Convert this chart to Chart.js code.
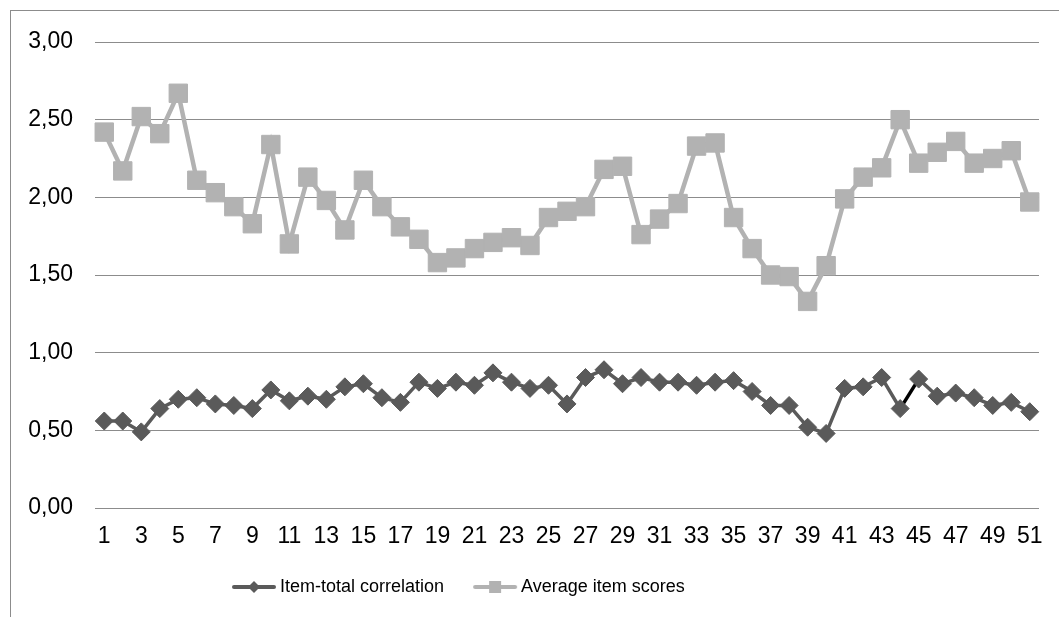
<!DOCTYPE html>
<html>
<head>
<meta charset="utf-8">
<script src="https://cdn.jsdelivr.net/npm/chart.js@4/dist/chart.umd.min.js"></script>
<style>
  html, body { margin: 0; padding: 0; background: #fff; overflow: hidden; }
  #wrap { position: relative; width: 1059px; height: 617px; }
  #frame { position: absolute; left: 10px; top: 10px; width: 1200px; height: 800px; border: 1px solid #8c8c8c; }
  canvas { position: absolute; left: 0; top: 0; }
</style>
</head>
<body>
<div id="wrap">
  <div id="frame"></div>
  <canvas id="chart" width="1059" height="617"></canvas>
</div>
<script>
// item numbers on the x axis
const items = ['1','2','3','4','5','6','7','8','9','10','11','12','13','14','15','16','17','18','19','20',
  '21','22','23','24','25','26','27','28','29','30','31','32','33','34','35','36','37','38','39','40',
  '41','42','43','44','45','46','47','48','49','50','51'];

// values
const itemTotalCorrelation = [0.56, 0.56, 0.49, 0.64, 0.70, 0.71, 0.67, 0.66, 0.64, 0.76,
  0.69, 0.72, 0.70, 0.78, 0.80, 0.71, 0.68, 0.81, 0.77, 0.81,
  0.79, 0.87, 0.81, 0.77, 0.79, 0.67, 0.84, 0.89, 0.80, 0.84,
  0.81, 0.81, 0.79, 0.81, 0.82, 0.75, 0.66, 0.66, 0.52, 0.48,
  0.77, 0.78, 0.84, 0.64, 0.83, 0.72, 0.74, 0.71, 0.66, 0.68, 0.62];

const averageItemScores = [2.42, 2.17, 2.52, 2.41, 2.67, 2.11, 2.03, 1.94, 1.83, 2.34,
  1.70, 2.13, 1.98, 1.79, 2.11, 1.94, 1.81, 1.73, 1.58, 1.61,
  1.67, 1.71, 1.74, 1.69, 1.87, 1.91, 1.94, 2.18, 2.20, 1.76,
  1.86, 1.96, 2.33, 2.35, 1.87, 1.67, 1.50, 1.49, 1.33, 1.56,
  1.99, 2.13, 2.19, 2.50, 2.22, 2.29, 2.36, 2.22, 2.25, 2.30, 1.97];

const yTicks = [0, 0.5, 1, 1.5, 2, 2.5, 3];

const DARK = '#5a5a5a';
const LIGHT = '#b2b2b2';
const GRID = '#8c8c8c';
const FAMILY = '"Liberation Sans", Arial, sans-serif';
const TICK_FONT = { family: FAMILY, size: 23 };
const LEGEND_FONT = { family: FAMILY, size: 18 };

// little line + marker picture for the legend
function legendIcon(color, shape, size) {
  const c = document.createElement('canvas');
  c.width = 46; c.height = 18;
  const g = c.getContext('2d');
  g.strokeStyle = color;
  g.lineWidth = 4;
  g.lineCap = 'round';
  g.beginPath();
  g.moveTo(3, 9); g.lineTo(43, 9);
  g.stroke();
  g.fillStyle = color;
  g.beginPath();
  if (shape === 'diamond') {
    g.moveTo(23, 9 - size); g.lineTo(23 + size, 9); g.lineTo(23, 9 + size); g.lineTo(23 - size, 9);
  } else {
    g.rect(23 - size, 9 - size, size * 2, size * 2);
  }
  g.closePath();
  g.fill();
  return c;
}

// move legend to where the original has it
const legendShift = {
  id: 'legendShift',
  afterLayout(chart) {
    const lg = chart.legend;
    const w = lg.right - lg.left;
    lg.left = 203;
    lg.right = 203 + w;
  }
};

new Chart(document.getElementById('chart'), {
  type: 'line',
  data: {
    labels: items,
    datasets: [
      {
        label: 'Item-total correlation',
        data: itemTotalCorrelation,
        borderColor: DARK,
        backgroundColor: DARK,
        borderWidth: 3.5,
        pointStyle: 'rectRot',
        pointRadius: 9,
        pointBorderWidth: 1,
        pointBorderColor: DARK,
        pointBackgroundColor: DARK,
        tension: 0,
        segment: {
          borderColor: ctx => ctx.p0DataIndex === 43 ? '#000' : undefined
        }
      },
      {
        label: 'Average item scores',
        data: averageItemScores,
        borderColor: LIGHT,
        backgroundColor: LIGHT,
        borderWidth: 4.5,
        pointStyle: 'rect',
        pointRadius: 13,
        pointBorderWidth: 1,
        pointBorderColor: LIGHT,
        pointBackgroundColor: LIGHT,
        tension: 0
      }
    ]
  },
  options: {
    responsive: false,
    animation: false,
    events: [],
    layout: { padding: { left: 10, top: 42, right: 20, bottom: 11 } },
    scales: {
      x: {
        type: 'category',
        offset: true,
        grid: { display: false, drawTicks: false, offset: true },
        border: { display: false },
        ticks: {
          autoSkip: false,
          maxRotation: 0,
          padding: 15,
          color: '#000',
          font: TICK_FONT,
          callback: function (v, i) { return i % 2 === 0 ? this.getLabelForValue(v) : ''; }
        },
        afterFit: s => { s.height = 36; }
      },
      y: {
        min: 0,
        max: 3,
        afterBuildTicks: s => { s.ticks = yTicks.map(v => ({ value: v })); },
        grid: { color: GRID, lineWidth: 1, drawTicks: false },
        border: { display: false },
        ticks: {
          padding: 22,
          color: '#000',
          font: TICK_FONT,
          callback: v => v.toFixed(2).replace('.', ',')
        },
        afterFit: s => { s.width = 85; }
      }
    },
    plugins: {
      tooltip: { enabled: false },
      legend: {
        position: 'bottom',
        align: 'start',
        labels: {
          usePointStyle: true,
          pointStyleWidth: 34,
          padding: 34,
          color: '#000',
          font: LEGEND_FONT,
          generateLabels: chart => chart.data.datasets.map((ds, i) => ({
            text: ds.label,
            datasetIndex: i,
            fontColor: '#000',
            pointStyle: i === 0 ? legendIcon(DARK, 'diamond', 6) : legendIcon(LIGHT, 'square', 6),
            hidden: false
          }))
        }
      }
    }
  },
  plugins: [legendShift]
});
</script>
</body>
</html>
